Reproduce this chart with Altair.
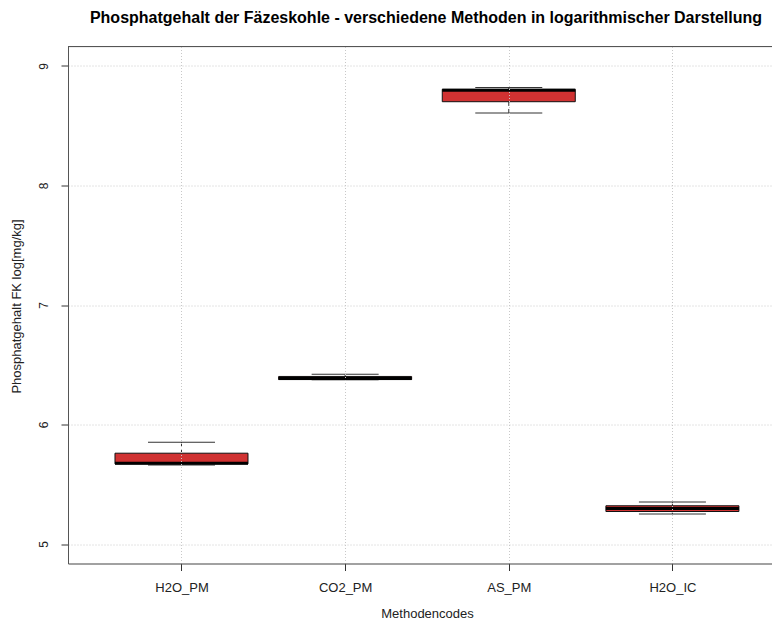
import altair as alt
import pandas as pd

# ---- data (log-scaled phosphate content) ----
categories = ["H2O_PM", "CO2_PM", "AS_PM", "H2O_IC"]
whisker_lo = [5.662, 6.375, 8.607, 5.251]
q1 = [5.670, 6.376, 8.701, 5.272]
median = [5.676, 6.386, 8.797, 5.298]
q3 = [5.760, 6.402, 8.805, 5.320]
whisker_hi = [5.852, 6.420, 8.819, 5.351]

df = pd.DataFrame({
    "cat": categories,
    "pos": list(range(1, len(categories) + 1)),
    "lo": whisker_lo,
    "q1": q1,
    "med": median,
    "q3": q3,
    "hi": whisker_hi,
})

FONT = "Liberation Sans"
W, H = 704, 517
BOX_W = 133
CAP_W = 67

label_expr = "[" + ",".join("'%s'" % c for c in categories) + "][datum.value - 1]"

xscale = alt.Scale(domain=[0.337, 4.578], nice=False, zero=False)
yscale = alt.Scale(domain=[4.837, 9.163], nice=False, zero=False)

xaxis = alt.Axis(
    values=[1, 2, 3, 4], labelExpr=label_expr, title="Methodencodes",
    tickSize=7, tickColor="#333", domainColor="#555", labelPadding=11,
    labelFontSize=13, labelColor="#222", labelFont=FONT,
    grid=True, gridColor="#c8c8c8", gridDash=[1, 2], zindex=1,
    titleFont=FONT, titleFontSize=13, titleFontWeight="normal", titleColor="#222",
    titleY=53.5, titleBaseline="alphabetic", titleX=W / 2 + 7,
)
yaxis = alt.Axis(
    values=[5, 6, 7, 8, 9], format="d", title="Phosphatgehalt FK log[mg/kg]",
    tickSize=7, tickColor="#333", domainColor="#555", labelPadding=14,
    labelAngle=270, labelAlign="center", labelBaseline="alphabetic",
    labelFontSize=12, labelColor="#222", labelFont=FONT,
    grid=True, gridColor="#c8c8c8", gridDash=[1, 2], zindex=1,
    titleFont=FONT, titleFontSize=13, titleFontWeight="normal", titleColor="#222",
    titleAngle=270, titleX=-47.5, titleY=H / 2 + 1, titleAlign="center",
    titleBaseline="alphabetic",
)

base = alt.Chart(df)

whisk_up = base.mark_rule(color="#333", strokeDash=[4, 3], strokeWidth=1).encode(
    x=alt.X("pos:Q", scale=xscale, axis=xaxis),
    y=alt.Y("q3:Q", scale=yscale, axis=yaxis),
    y2="hi:Q",
)
whisk_dn = base.mark_rule(color="#333", strokeDash=[4, 3], strokeWidth=1).encode(
    x="pos:Q", y="lo:Q", y2="q1:Q",
)
cap_hi = base.mark_tick(orient="horizontal", size=CAP_W, thickness=1, color="#333", opacity=1).encode(
    x="pos:Q", y="hi:Q",
)
cap_lo = base.mark_tick(orient="horizontal", size=CAP_W, thickness=1, color="#333", opacity=1).encode(
    x="pos:Q", y="lo:Q",
)
box = base.mark_bar(size=BOX_W, color="#D03232", stroke="#111", strokeWidth=1).encode(
    x="pos:Q", y="q1:Q", y2="q3:Q",
)
med = base.mark_tick(orient="horizontal", size=BOX_W, thickness=3, color="black", opacity=1).encode(
    x="pos:Q", y="med:Q",
)
top_border = alt.Chart(pd.DataFrame({"a": [0]})).mark_rule(color="#555", strokeWidth=1).encode(
    x=alt.value(0), x2=alt.value(W), y=alt.value(0),
)

chart = alt.layer(whisk_up, whisk_dn, cap_hi, cap_lo, box, med, top_border).properties(
    width=W, height=H,
    title=alt.TitleParams(
        "Phosphatgehalt der Fäzeskohle - verschiedene Methoden in logarithmischer Darstellung",
        font=FONT, fontSize=16, fontWeight="bold", color="black",
        anchor="middle", frame="group", baseline="alphabetic", offset=7.5, dx=6,
    ),
    autosize=alt.AutoSizeParams(type="none"),
    padding={"left": 60, "top": 38.5, "right": 0, "bottom": 55.5},
).configure_view(stroke=None).configure(background="white")

chart.save("out.html", embed_options={"renderer": "svg", "actions": False})
